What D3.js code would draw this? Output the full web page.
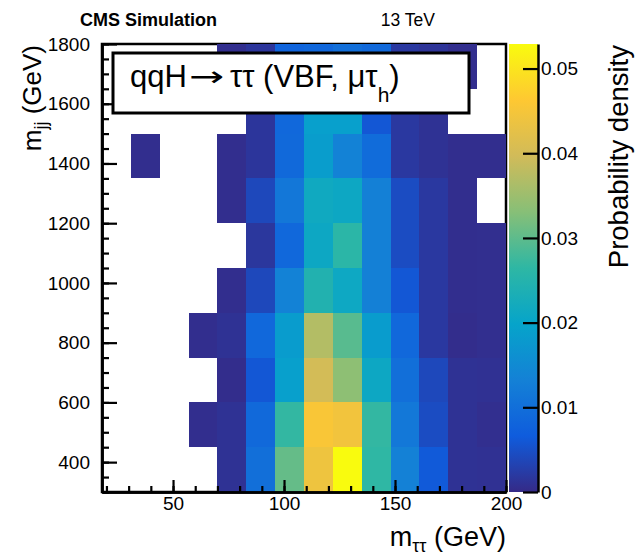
<!DOCTYPE html>
<html>
<head>
<meta charset="utf-8">
<script src="https://cdn.jsdelivr.net/npm/d3@7/dist/d3.min.js"></script>
<style>
  html, body { margin: 0; padding: 0; background: #fff; }
  svg { display: block; font-family: "Liberation Sans", Arial, Helvetica, sans-serif; }
</style>
</head>
<body>
<svg id="chart" width="640" height="555"></svg>
<script>
// ---- data ----
const mttEdges = [18, 31, 44, 57, 70, 83, 96, 109, 122, 135, 148, 161, 174, 187, 200];
const mjjEdges = [300, 450, 600, 750, 900, 1050, 1200, 1350, 1500, 1650, 1800];
// rows: mjj bins (low to high); columns: mtautau bins (low to high); null = empty bin
const densityRow0 = [null, null, null, null, 0.0010, 0.0100, 0.0305, 0.0440, 0.0529, 0.0265, 0.0132, 0.0063, 0.0010, 0.0009];
const densityRow1 = [null, null, null, 0.0005, 0.0010, 0.0090, 0.0268, 0.0455, 0.0445, 0.0268, 0.0116, 0.0045, 0.0010, 0.0006];
const densityRow2 = [null, null, null, null, 0.0004, 0.0060, 0.0190, 0.0400, 0.0337, 0.0210, 0.0100, 0.0040, 0.0010, 0.0009];
const densityRow3 = [null, null, null, 0.0005, 0.0010, 0.0088, 0.0183, 0.0370, 0.0296, 0.0183, 0.0087, 0.0019, 0.0004, 0.0006];
const densityRow4 = [null, null, null, null, 0.0005, 0.0040, 0.0135, 0.0245, 0.0211, 0.0130, 0.0060, 0.0019, 0.0005, 0.0006];
const densityRow5 = [null, null, null, null, null, 0.0017, 0.0087, 0.0210, 0.0260, 0.0130, 0.0045, 0.0019, 0.0005, 0.0006];
const densityRow6 = [null, null, null, null, 0.0005, 0.0040, 0.0115, 0.0215, 0.0210, 0.0130, 0.0045, 0.0019, 0.0005, null];
const densityRow7 = [null, 0.0005, null, null, 0.0005, 0.0015, 0.0090, 0.0185, 0.0135, 0.0095, 0.0019, 0.0010, 0.0005, 0.0005];
const densityRow8 = [null, null, null, null, null, 0.0015, 0.0087, 0.0190, 0.0190, 0.0060, 0.0019, 0.0010, null, null];
const densityRow9 = [null, null, null, null, 0.0005, 0.0015, 0.0080, 0.0085, 0.0100, 0.0090, 0.0019, 0.0013, 0.0005, null];
const density = [densityRow0, densityRow1, densityRow2, densityRow3, densityRow4,
                 densityRow5, densityRow6, densityRow7, densityRow8, densityRow9];

const zMax = 0.0529;
const zTicks = [0, 0.01, 0.02, 0.03, 0.04, 0.05];
const xMajorTicks = [50, 100, 150, 200];
const xMinorTicks = d3.range(20, 201, 10);
const yMajorTicks = [400, 600, 800, 1000, 1200, 1400, 1600, 1800];
const yMinorTicks = d3.range(300, 1801, 50);
const birdColors = ["#352a87", "#0f5cdd", "#1481d6", "#06a4ca", "#2eb7a4", "#87bf77", "#d1bb59", "#fec832", "#f9fb0e"];

// ---- layout ----
const svg = d3.select("#chart");
const plot = { left: 102, right: 506, top: 44, bottom: 492 };
const cbar = { left: 509, right: 538 };

const x = d3.scaleLinear().domain([mttEdges[0], mttEdges[mttEdges.length - 1]]).range([plot.left, plot.right]);
const y = d3.scaleLinear().domain([mjjEdges[0], mjjEdges[mjjEdges.length - 1]]).range([plot.bottom, plot.top]);
const z = d3.scaleLinear().domain([0, zMax]).range([plot.bottom, plot.top]);
const color = d3.scaleLinear()
  .domain(birdColors.map((c, i) => i / (birdColors.length - 1) * zMax))
  .range(birdColors)
  .interpolate(d3.interpolateRgb)
  .clamp(true);

// frame
svg.append("rect")
  .attr("x", plot.left).attr("y", plot.top)
  .attr("width", plot.right - plot.left).attr("height", plot.bottom - plot.top)
  .attr("fill", "none").attr("stroke", "#000").attr("stroke-width", 2.5);

// cells
const cells = [];
density.forEach((row, j) => row.forEach((v, i) => {
  if (v !== null) cells.push({ i, j, v });
}));
svg.append("g").selectAll("rect").data(cells).join("rect")
  .attr("x", d => x(mttEdges[d.i]))
  .attr("y", d => y(mjjEdges[d.j + 1]))
  .attr("width", d => x(mttEdges[d.i + 1]) - x(mttEdges[d.i]))
  .attr("height", d => y(mjjEdges[d.j]) - y(mjjEdges[d.j + 1]))
  .attr("fill", d => color(d.v))
  .attr("shape-rendering", "crispEdges");

// axes
function styleAxis(g) {
  g.selectAll("path.domain").attr("stroke", "#000").attr("stroke-width", 2.5);
  g.selectAll(".tick line").attr("stroke", "#000").attr("stroke-width", 2.2);
  g.selectAll(".tick text").attr("fill", "#000").style("font-size", "19px")
    .style("font-family", "'Liberation Sans', Arial, sans-serif");
}

const xMinor = svg.append("g").attr("transform", `translate(0,${plot.bottom})`)
  .call(d3.axisBottom(x).tickValues(xMinorTicks).tickSizeInner(-6).tickSizeOuter(0).tickFormat(""));
styleAxis(xMinor);
const xAxis = svg.append("g").attr("transform", `translate(0,${plot.bottom})`)
  .call(d3.axisBottom(x).tickValues(xMajorTicks).tickSizeInner(-12).tickSizeOuter(0).tickPadding(5).tickFormat(d3.format("d")));
styleAxis(xAxis);

const yMinor = svg.append("g").attr("transform", `translate(${plot.left},0)`)
  .call(d3.axisLeft(y).tickValues(yMinorTicks).tickSizeInner(-7).tickSizeOuter(0).tickFormat(""));
styleAxis(yMinor);
const yAxis = svg.append("g").attr("transform", `translate(${plot.left},0)`)
  .call(d3.axisLeft(y).tickValues(yMajorTicks).tickSizeInner(-15).tickSizeOuter(0).tickPadding(12).tickFormat(d3.format("d")));
styleAxis(yAxis);

// colour bar
const defs = svg.append("defs");
const grad = defs.append("linearGradient").attr("id", "bird")
  .attr("x1", 0).attr("y1", 1).attr("x2", 0).attr("y2", 0);
grad.selectAll("stop").data(birdColors).join("stop")
  .attr("offset", (d, i) => i / (birdColors.length - 1))
  .attr("stop-color", d => d);
svg.append("rect")
  .attr("x", cbar.left).attr("y", z(zMax))
  .attr("width", cbar.right - cbar.left).attr("height", z(0) - z(zMax))
  .attr("fill", "url(#bird)");
const zAxis = svg.append("g").attr("transform", `translate(${cbar.right},0)`)
  .call(d3.axisRight(z).tickValues(zTicks).tickSizeInner(-15).tickSizeOuter(0).tickPadding(3)
    .tickFormat(v => v === 0 ? "0" : d3.format(".2f")(v)));
styleAxis(zAxis);

// legend box
const box = svg.append("g");
box.append("rect").attr("x", 113).attr("y", 53).attr("width", 356).attr("height", 60)
  .attr("fill", "#fff").attr("stroke", "#000").attr("stroke-width", 3);
box.append("text").attr("x", 130).attr("y", 87).style("font-size", "31px").text("qqH");
box.append("text").attr("transform", "translate(189,86) scale(1.5,1)")
  .style("font-family", "'DejaVu Sans', sans-serif").style("font-size", "28px").text("\u2192");
const lbl = box.append("text").attr("x", 230).attr("y", 87).style("font-size", "31px");
lbl.append("tspan").text("\u03c4\u03c4 (VBF, \u03bc\u03c4");
lbl.append("tspan").attr("dy", 15).style("font-size", "21px").text("h");
lbl.append("tspan").attr("dy", -15).text(")");

// titles
svg.append("text").attr("x", 80).attr("y", 26).style("font-size", "18px").style("font-weight", "bold")
  .text("CMS Simulation");
svg.append("text").attr("x", 435).attr("y", 26).attr("text-anchor", "end").style("font-size", "17.5px")
  .text("13 TeV");

const xt = svg.append("text").attr("x", plot.right).attr("y", 546).attr("text-anchor", "end").style("font-size", "27px");
xt.append("tspan").text("m");
xt.append("tspan").attr("dy", 6).style("font-size", "18px").text("\u03c4\u03c4");
xt.append("tspan").attr("dy", -6).text(" (GeV)");

const yt = svg.append("text").attr("transform", `translate(41,${plot.top + 1}) rotate(-90)`)
  .attr("text-anchor", "end").style("font-size", "26px");
yt.append("tspan").text("m");
yt.append("tspan").attr("dy", 6).style("font-size", "18px").text("jj");
yt.append("tspan").attr("dy", -6).text(" (GeV)");

svg.append("text").attr("transform", `translate(628,${plot.top + 1}) rotate(-90)`)
  .attr("text-anchor", "end").style("font-size", "27.5px").text("Probability density");
</script>
</body>
</html>
